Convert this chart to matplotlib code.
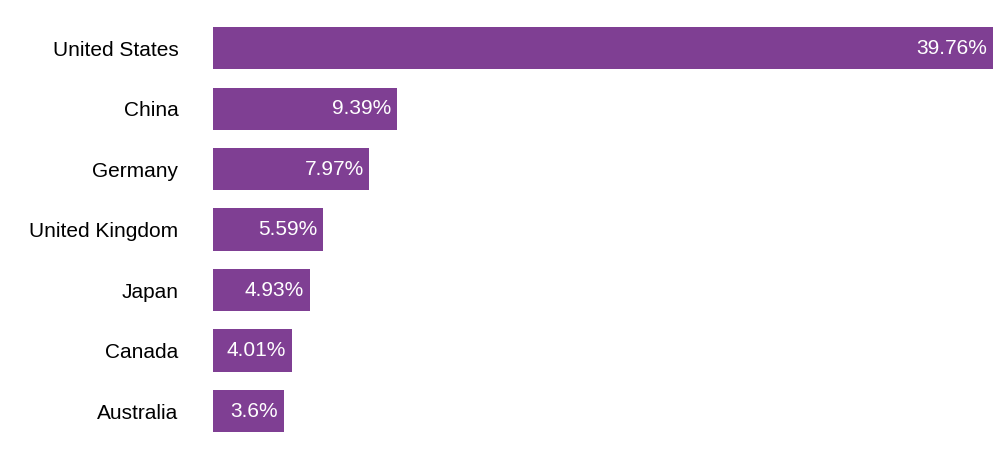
import matplotlib
matplotlib.use("Agg")
import matplotlib.pyplot as plt

countries = ["United States", "China", "Germany", "United Kingdom", "Japan", "Canada", "Australia"]
values = [39.76, 9.39, 7.97, 5.59, 4.93, 4.01, 3.6]
labels = ["39.76%", "9.39%", "7.97%", "5.59%", "4.93%", "4.01%", "3.6%"]

plt.rcParams['font.family'] = ['Liberation Sans', 'DejaVu Sans']
fig = plt.figure(figsize=(10, 4.49), dpi=100)
ax = fig.add_axes([0.213, 0.017, 0.78, 0.943])
y = list(range(len(countries)))
ax.barh(y, values, height=0.7, color="#7f3f93")
ax.set_ylim(len(countries) - 0.5, -0.5)
ax.set_xlim(0, max(values))
ax.set_yticks(y)
ax.set_yticklabels(countries, fontsize=15)
ax.tick_params(axis='y', length=0, pad=25)
ax.set_xticks([])
for s in ax.spines.values():
    s.set_visible(False)
for yi, v, l in zip(y, values, labels):
    ax.annotate(l, (v, yi), xytext=(-4, 0), textcoords='offset points',
                ha='right', va='center', color='white', fontsize=15)
fig.savefig("out.png", dpi=100)
